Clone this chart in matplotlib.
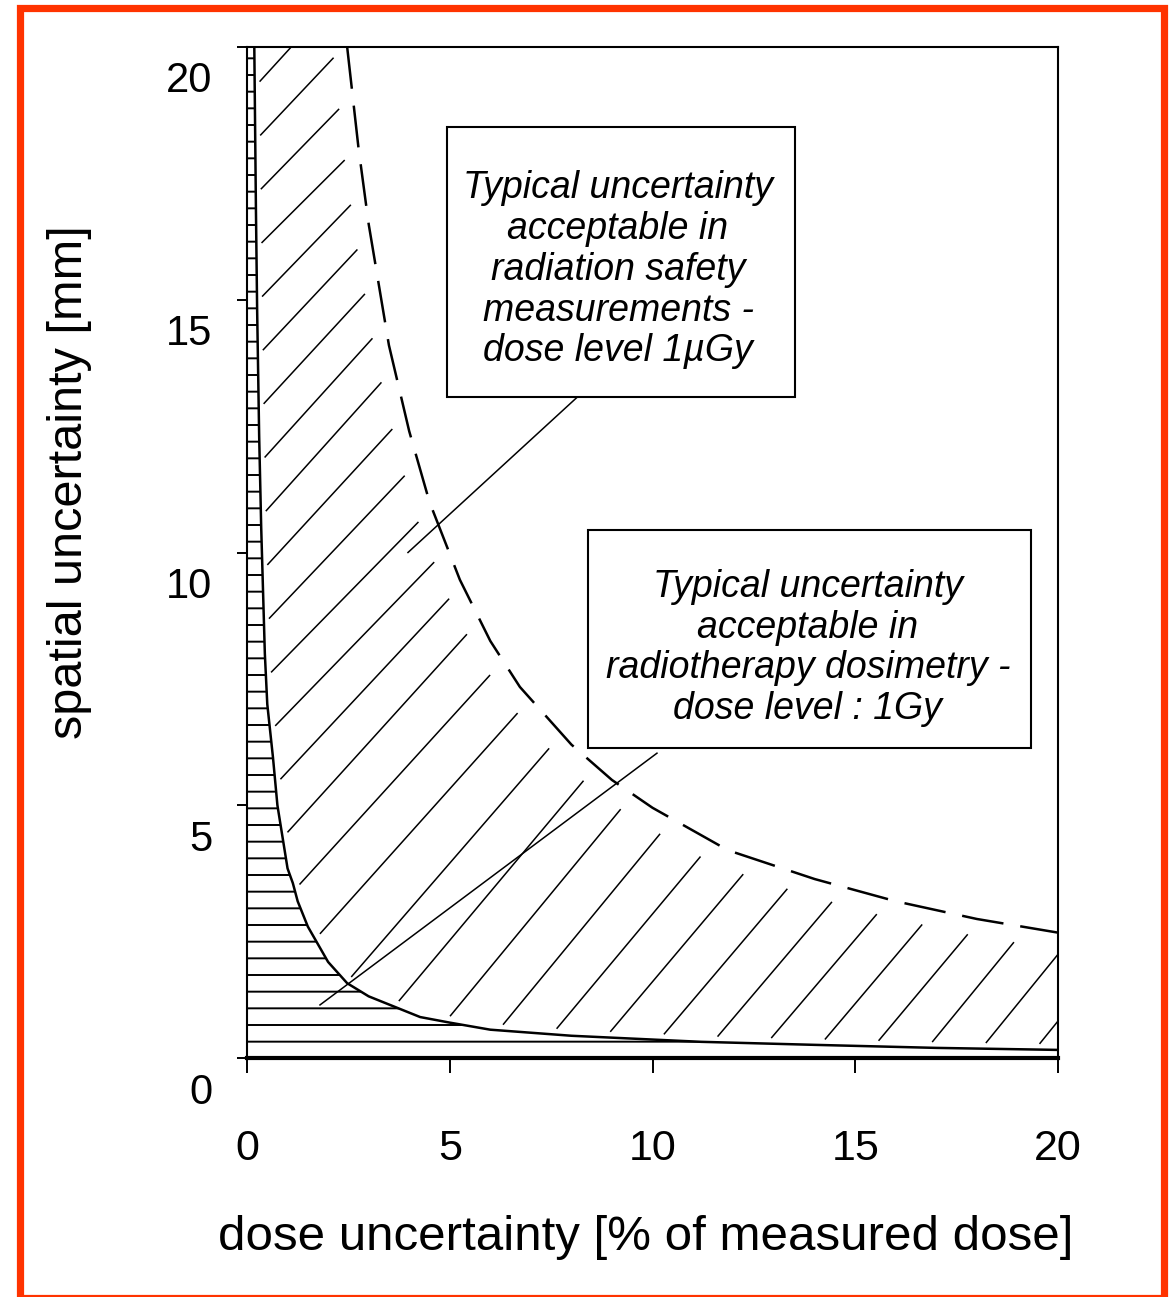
import numpy as np
import matplotlib.pyplot as plt
from matplotlib.patches import Rectangle
from matplotlib.transforms import ScaledTranslation

plt.rcParams["hatch.linewidth"] = 1.4
plt.rcParams["font.family"] = ["Liberation Sans", "DejaVu Sans"]

# radiotherapy dosimetry limit (dose level 1 Gy)
rt_dose = [0.18, 0.22, 0.25, 0.3, 0.35, 0.44, 0.5, 0.64, 0.75, 1.0, 1.13, 1.25,
           1.5, 2.0, 2.47, 3.0, 4.27, 5.0, 6.0, 8.0, 11.2, 14.0, 17.0, 20.0]
rt_spatial = [20.0, 16.8, 14.8, 12.3, 10.5, 8.0, 7.0, 5.95, 5.0, 3.75, 3.46, 3.1,
              2.6, 1.9, 1.48, 1.22, 0.81, 0.7, 0.56, 0.44, 0.32, 0.26, 0.2, 0.16]

# radiation safety limit (dose level 1 uGy)
rs_dose = [2.47, 2.75, 3.0, 3.5, 4.0, 4.5, 5.25, 6.0, 6.73, 8.0, 9.0, 10.0,
           11.86, 14.0, 16.0, 18.0, 20.0]
rs_spatial = [20.0, 18.0, 16.5, 14.1, 12.4, 11.0, 9.46, 8.25, 7.34, 6.2, 5.5, 4.95,
              4.11, 3.54, 3.1, 2.75, 2.48]

ticks = [0, 5, 10, 15, 20]

box_safety = "Typical uncertainty\nacceptable in\nradiation safety\nmeasurements -\ndose level 1\u00b5Gy"
box_therapy = "Typical uncertainty\nacceptable in\nradiotherapy dosimetry -\ndose level : 1Gy"

W, H = 1173, 1297
fig = plt.figure(figsize=(W / 100, H / 100), dpi=100)
ax = fig.add_axes([247 / W, 1 - 1058 / H, (1058 - 247) / W, (1058 - 47) / H])
ax.set_xlim(0, 20)
ax.set_ylim(0, 20)

# horizontal hatching under the dosimetry curve
ax.fill(np.r_[0, 0, rt_dose, 20], np.r_[0, 20, rt_spatial, 0],
        facecolor="none", edgecolor="black", linewidth=0, hatch="-", zorder=1)

ax.plot(rt_dose, rt_spatial, color="black", lw=1.8, zorder=3)
ax.plot(rs_dose, rs_spatial, color="black", lw=1.8,
        linestyle=(0, (16.8, 6.8)), zorder=3)


# fan of diagonal strokes between the two curves, laid out along their length
def px_path(xs, ys):
    pts = ax.transData.transform(np.column_stack([xs, ys]))
    cum = np.r_[0, np.cumsum(np.hypot(*np.diff(pts, axis=0).T))]
    return pts, cum


def point_at(pts, cum, s):
    if s < 0:
        d = pts[1] - pts[0]
        return pts[0] + s * d / np.hypot(*d)
    if s > cum[-1]:
        d = pts[-1] - pts[-2]
        return pts[-1] + (s - cum[-1]) * d / np.hypot(*d)
    return np.array([np.interp(s, cum, pts[:, 0]), np.interp(s, cum, pts[:, 1])])


lo_pts, lo_cum = px_path(rt_dose, rt_spatial)
hi_pts, hi_cum = px_path(rs_dose, rs_spatial)
inv = ax.transData.inverted()
s_ref = [40, 201, 476, 653, 790, 1030, 1538, 1700]
e_ref = [-55, 100, 330, 490, 590, 800, 1240, 1385]
for i in range(31):
    s = 40 + 53.7 * i
    e = np.interp(s, s_ref, e_ref)
    p0 = point_at(lo_pts, lo_cum, s)
    p1 = point_at(hi_pts, hi_cum, e)
    u = (p1 - p0) / np.hypot(*(p1 - p0))
    a, b = inv.transform([p0 + 8 * u, p1 - 20 * u])
    ax.plot([a[0], b[0]], [a[1], b[1]], color="black", lw=1.1, zorder=2)

# annotation boxes with leader lines
ax.plot([8.14, 3.97], [13.07, 10.0], color="black", lw=1.1, zorder=4)
ax.plot([10.11, 1.8], [6.03, 1.05], color="black", lw=1.1, zorder=4)

ax.add_patch(Rectangle((4.93, 13.08), 8.58, 5.34, facecolor="white",
                       edgecolor="black", lw=1.5, zorder=5))
ax.add_patch(Rectangle((8.41, 6.13), 10.92, 4.32, facecolor="white",
                       edgecolor="black", lw=1.5, zorder=5))
ax.text(9.15, 15.59, box_safety, ha="center", va="center", fontsize=27,
        style="italic", linespacing=1.17, zorder=6)
ax.text(13.83, 8.11, box_therapy, ha="center", va="center", fontsize=27,
        style="italic", linespacing=1.17, zorder=6)

# axes styling
for side in ["left", "right", "top"]:
    ax.spines[side].set_linewidth(1.5)
ax.spines["bottom"].set_linewidth(3)

ax.set_xticks(ticks, [str(t) for t in ticks], fontsize=31)
ax.set_yticks(ticks, [str(t) for t in ticks], fontsize=30)
ax.tick_params(axis="x", direction="out", length=11, width=1.4, pad=40)
ax.tick_params(axis="y", direction="out", length=7, width=1.4, pad=18)
shift = ScaledTranslation(0, -0.30, fig.dpi_scale_trans)
for lbl in ax.get_yticklabels():
    lbl.set_transform(lbl.get_transform() + shift)

fig.text(646 / W, 1 - 1250 / H, "dose uncertainty [% of measured dose]",
         ha="center", va="baseline", fontsize=35.5)
fig.text(70 / W, 1 - 482 / H, "spatial uncertainty [mm]", ha="center",
         va="center", rotation=90, fontsize=35)

# outer frame
fig.patches.append(Rectangle((19.5 / W, -1 / H), 1144 / W, (H - 7) / H,
                             transform=fig.transFigure, facecolor="none",
                             edgecolor="#ff3300", lw=5.2))

fig.savefig("out.png", dpi=100)
